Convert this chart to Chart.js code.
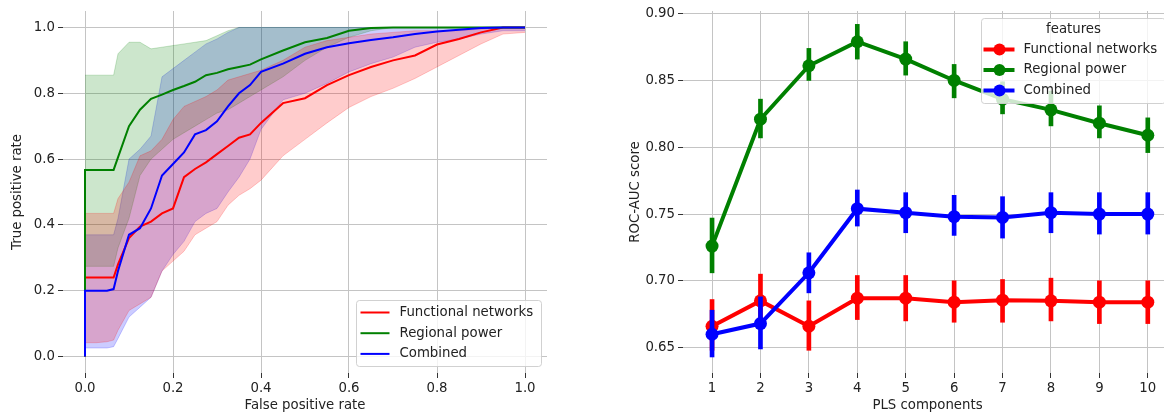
<!DOCTYPE html>
<html>
<head>
<meta charset="utf-8">
<script src="https://cdn.jsdelivr.net/npm/chart.js@4.4.0/dist/chart.umd.min.js"></script>
<style>
    html, body { margin: 0; padding: 0; background: #fff; overflow: hidden; width: 1164px; height: 414px; }
    #grafica-roc { position: absolute; left: 0; top: 0; }
    #grafica-pls { position: absolute; left: 600px; top: 0; }
</style>
</head>
<body>
<canvas id="grafica-roc" width="570" height="414"></canvas>
<canvas id="grafica-pls" width="600" height="414"></canvas>
<script>
// ---- datos panel izquierdo (curvas ROC) ----
const fpr = [0, 0, 0.025, 0.05, 0.065, 0.075, 0.1, 0.125, 0.15, 0.175, 0.2, 0.225, 0.25, 0.275, 0.3, 0.325,
    0.35, 0.375, 0.4, 0.45, 0.5, 0.55, 0.6, 0.65, 0.7, 0.75, 0.8, 0.85, 0.9, 0.95, 1.0];

const redMean = [0, 0.24, 0.24, 0.24, 0.24, 0.28, 0.36, 0.395, 0.41, 0.435, 0.45, 0.545, 0.57, 0.59, 0.615, 0.64,
    0.665, 0.675, 0.71, 0.77, 0.785, 0.825, 0.855, 0.88, 0.9, 0.915, 0.948, 0.965, 0.985, 1.0, 1.0];
const redUp = [0.435, 0.435, 0.435, 0.435, 0.435, 0.48, 0.53, 0.61, 0.625, 0.66, 0.72, 0.76, 0.775, 0.79, 0.81, 0.84,
    0.85, 0.86, 0.87, 0.9, 0.94, 0.96, 0.97, 0.98, 0.985, 0.99, 0.99, 0.99, 0.995, 1.0, 1.0];
const redLo = [0.042, 0.042, 0.042, 0.045, 0.05, 0.08, 0.14, 0.16, 0.18, 0.26, 0.29, 0.32, 0.37, 0.39, 0.41, 0.46,
    0.49, 0.51, 0.536, 0.61, 0.66, 0.71, 0.757, 0.79, 0.815, 0.845, 0.88, 0.915, 0.95, 0.98, 0.985];

const greenMean = [0, 0.567, 0.567, 0.567, 0.567, 0.605, 0.7, 0.75, 0.783, 0.796, 0.81, 0.822, 0.835, 0.855, 0.862, 0.873,
    0.88, 0.887, 0.903, 0.93, 0.955, 0.968, 0.99, 0.998, 1.0, 1.0, 1.0, 1.0, 1.0, 1.0, 1.0];
const greenUp = [0.855, 0.855, 0.855, 0.855, 0.855, 0.92, 0.955, 0.955, 0.935, 0.94, 0.945, 0.95, 0.955, 0.96, 0.975, 0.99,
    1.0, 1.0, 1.0, 1.0, 1.0, 1.0, 1.0, 1.0, 1.0, 1.0, 1.0, 1.0, 1.0, 1.0, 1.0];
const greenLo = [0.274, 0.274, 0.274, 0.274, 0.274, 0.33, 0.42, 0.55, 0.6, 0.63, 0.66, 0.68, 0.7, 0.72, 0.74, 0.75,
    0.77, 0.79, 0.81, 0.85, 0.9, 0.94, 0.97, 0.99, 1.0, 1.0, 1.0, 1.0, 1.0, 1.0, 1.0];

const blueMean = [0, 0.2, 0.2, 0.2, 0.205, 0.26, 0.37, 0.39, 0.45, 0.55, 0.585, 0.62, 0.675, 0.688, 0.715, 0.76,
    0.8, 0.825, 0.865, 0.89, 0.92, 0.94, 0.952, 0.962, 0.97, 0.98, 0.988, 0.993, 0.998, 1.0, 1.0];
const blueUp = [0.37, 0.37, 0.37, 0.37, 0.37, 0.42, 0.6, 0.63, 0.67, 0.85, 0.875, 0.9, 0.925, 0.95, 0.965, 0.985,
    1.0, 1.0, 1.0, 1.0, 1.0, 1.0, 1.0, 1.0, 1.0, 1.0, 1.0, 1.0, 1.0, 1.0, 1.0];
const blueLo = [0.026, 0.026, 0.026, 0.026, 0.03, 0.055, 0.12, 0.15, 0.18, 0.26, 0.31, 0.35, 0.41, 0.435, 0.45, 0.5,
    0.545, 0.6, 0.69, 0.78, 0.8, 0.83, 0.865, 0.89, 0.91, 0.94, 0.955, 0.965, 0.98, 0.99, 0.99];

const ticksRoc = [0, 0.2, 0.4, 0.6, 0.8, 1.0];

// ---- datos panel derecho (ROC-AUC vs componentes PLS) ----
const componentes = [1, 2, 3, 4, 5, 6, 7, 8, 9, 10];
const fnMean = [0.666, 0.685, 0.666, 0.687, 0.687, 0.684, 0.6855, 0.685, 0.684, 0.684];
const fnLo = [0.648, 0.665, 0.648, 0.671, 0.670, 0.669, 0.669, 0.670, 0.668, 0.668];
const fnHi = [0.686, 0.705, 0.685, 0.704, 0.704, 0.700, 0.701, 0.702, 0.700, 0.700];
const rpMean = [0.726, 0.821, 0.861, 0.879, 0.866, 0.850, 0.836, 0.828, 0.818, 0.809];
const rpLo = [0.706, 0.807, 0.850, 0.866, 0.854, 0.837, 0.825, 0.816, 0.807, 0.796];
const rpHi = [0.747, 0.836, 0.874, 0.892, 0.879, 0.862, 0.849, 0.842, 0.831, 0.822];
const cbMean = [0.660, 0.668, 0.706, 0.754, 0.751, 0.748, 0.7475, 0.751, 0.750, 0.750];
const cbLo = [0.643, 0.649, 0.691, 0.741, 0.736, 0.734, 0.732, 0.736, 0.735, 0.735];
const cbHi = [0.678, 0.688, 0.721, 0.768, 0.766, 0.764, 0.763, 0.766, 0.766, 0.766];
const ticksAuc = [0.65, 0.70, 0.75, 0.80, 0.85, 0.90];

const nombresSeries = ['Functional networks', 'Regional power', 'Combined'];
const tituloLeyenda = 'features';

// estilos
const colores = ['rgb(255, 0, 0)', 'rgb(0, 128, 0)', 'rgb(0, 0, 255)'];
const coloresBanda = ['rgba(255, 0, 0, 0.2)', 'rgba(0, 128, 0, 0.2)', 'rgba(0, 0, 255, 0.2)'];
const fuente = "'DejaVu Sans', sans-serif";
const colorTexto = '#222';
const colorGrid = '#c4c4c4';

Chart.defaults.font.family = fuente;
Chart.defaults.font.size = 13.3;
Chart.defaults.color = colorTexto;

document.addEventListener('DOMContentLoaded', function () {
    graficaRoc();
    graficaPls();
});

//funciones complementarias

function cajaLeyenda(ctx, x, y, w, h) {
    const r = 3;
    ctx.save();
    ctx.beginPath();
    ctx.moveTo(x + r, y);
    ctx.arcTo(x + w, y, x + w, y + h, r);
    ctx.arcTo(x + w, y + h, x, y + h, r);
    ctx.arcTo(x, y + h, x, y, r);
    ctx.arcTo(x, y, x + w, y, r);
    ctx.closePath();
    ctx.fillStyle = 'rgba(255, 255, 255, 0.8)';
    ctx.fill();
    ctx.strokeStyle = 'rgba(204, 204, 204, 0.9)';
    ctx.lineWidth = 1;
    ctx.stroke();
    ctx.restore();
}

const leyendaRoc = {
    id: 'leyendaRoc',
    afterDraw(chart) {
        const ctx = chart.ctx;
        const area = chart.chartArea;
        const ancho = 185, alto = 66;
        const x0 = Math.round(area.right - 6 - ancho) + 0.5;
        const y0 = Math.round(area.bottom - 7 - alto) + 0.5;
        cajaLeyenda(ctx, x0, y0, ancho, alto);
        ctx.save();
        ctx.font = '13.3px ' + fuente;
        ctx.textBaseline = 'middle';
        ctx.fillStyle = colorTexto;
        nombresSeries.forEach((nombre, i) => {
            const y = y0 + 12 + i * 20.7;
            ctx.strokeStyle = colores[i];
            ctx.lineWidth = 2;
            ctx.beginPath();
            ctx.moveTo(x0 + 4, y);
            ctx.lineTo(x0 + 33, y);
            ctx.stroke();
            ctx.fillText(nombre, x0 + 43, y);
        });
        ctx.restore();
    }
};

const leyendaPls = {
    id: 'leyendaPls',
    afterDraw(chart) {
        const ctx = chart.ctx;
        const area = chart.chartArea;
        const ancho = 184, alto = 85;
        const x0 = Math.round(area.right - 7 - ancho) + 0.5;
        const y0 = Math.round(area.top + 7) + 0.5;
        cajaLeyenda(ctx, x0, y0, ancho, alto);
        ctx.save();
        ctx.font = '13.3px ' + fuente;
        ctx.textBaseline = 'middle';
        ctx.fillStyle = colorTexto;
        ctx.textAlign = 'center';
        ctx.fillText(tituloLeyenda, x0 + ancho / 2, y0 + 11);
        ctx.textAlign = 'left';
        nombresSeries.forEach((nombre, i) => {
            const y = y0 + 31 + i * 20.5;
            ctx.strokeStyle = colores[i];
            ctx.fillStyle = colores[i];
            ctx.lineWidth = 4;
            ctx.beginPath();
            ctx.moveTo(x0 + 2, y);
            ctx.lineTo(x0 + 33, y);
            ctx.stroke();
            ctx.beginPath();
            ctx.arc(x0 + 18, y, 6, 0, Math.PI * 2);
            ctx.fill();
            ctx.fillStyle = colorTexto;
            ctx.fillText(nombre, x0 + 42, y);
        });
        ctx.restore();
    }
};

function ejeComun(ticks, decimales) {
    return {
        type: 'linear',
        offset: false,
        afterBuildTicks: axis => { axis.ticks = ticks.map(v => ({ value: v })); },
        ticks: {
            padding: 3,
            color: colorTexto,
            callback: value => Number(value).toFixed(decimales)
        },
        grid: {
            offset: false,
            color: colorGrid,
            lineWidth: 1,
            drawTicks: true,
            tickLength: 5,
            tickColor: '#333',
            tickWidth: 1
        },
        border: { display: false }
    };
}

function graficaRoc() {
    const puntos = arr => fpr.map((f, i) => ({ x: f, y: arr[i] }));
    // blue encima de green encima de red, como en el original
    const linea = (arr, i) => ({
        label: nombresSeries[i],
        data: puntos(arr),
        borderColor: colores[i],
        borderWidth: 2,
        pointRadius: 0,
        fill: false,
        order: 0.3 - i * 0.1
    });
    const banda = (arr, i, relleno) => ({
        data: puntos(arr),
        borderColor: coloresBanda[i],
        backgroundColor: coloresBanda[i],
        borderWidth: 1,
        pointRadius: 0,
        fill: relleno,
        order: 1
    });

    const ejeX = ejeComun(ticksRoc, 1);
    ejeX.min = -0.05;
    ejeX.max = 1.05;
    ejeX.afterFit = axis => { axis.height = 41; };
    ejeX.title = { display: true, text: 'False positive rate', color: colorTexto, padding: { top: 0, bottom: 0 } };

    const ejeY = ejeComun(ticksRoc, 1);
    ejeY.min = -0.05;
    ejeY.max = 1.05;
    ejeY.afterFit = axis => { axis.width = 63; };
    ejeY.title = { display: true, text: 'True positive rate', color: colorTexto, padding: { top: 10, bottom: 0 } };

    const config = {
        type: 'line',
        data: {
            datasets: [
                linea(redMean, 0),
                linea(greenMean, 1),
                linea(blueMean, 2),
                banda(redUp, 0, '+1'),
                banda(redLo, 0, false),
                banda(greenUp, 1, '+1'),
                banda(greenLo, 1, false),
                banda(blueUp, 2, '+1'),
                banda(blueLo, 2, false)
            ]
        },
        options: {
            responsive: false,
            animation: false,
            devicePixelRatio: 1,
            layout: { padding: { top: 11, right: 23, left: 0, bottom: 0 } },
            plugins: {
                legend: { display: false },
                tooltip: { enabled: false }
            },
            scales: { x: ejeX, y: ejeY }
        },
        plugins: [leyendaRoc]
    };

    const ctx = document.getElementById('grafica-roc').getContext('2d');
    new Chart(ctx, config);
}

function graficaPls() {
    const medias = [fnMean, rpMean, cbMean];
    const bajos = [fnLo, rpLo, cbLo];
    const altos = [fnHi, rpHi, cbHi];
    const datasets = [];

    medias.forEach((serie, i) => {
        // barras de error como barras flotantes
        datasets.push({
            type: 'bar',
            data: componentes.map((c, j) => ({ x: c, y: [bajos[i][j], altos[i][j]] })),
            backgroundColor: colores[i],
            borderWidth: 0,
            barThickness: 4,
            grouped: false,
            order: 6 - i * 2
        });
        datasets.push({
            type: 'line',
            label: nombresSeries[i],
            data: componentes.map((c, j) => ({ x: c, y: serie[j] })),
            borderColor: colores[i],
            backgroundColor: colores[i],
            borderWidth: 4,
            pointRadius: 6.5,
            pointBorderWidth: 0,
            pointBackgroundColor: colores[i],
            fill: false,
            order: 5 - i * 2
        });
    });

    const ejeX = ejeComun(componentes, 0);
    ejeX.min = 0.4;
    ejeX.max = 10.5;
    ejeX.afterFit = axis => { axis.height = 41; };
    ejeX.title = { display: true, text: 'PLS components', color: colorTexto, padding: { top: 0, bottom: 0 } };

    const ejeY = ejeComun(ticksAuc, 2);
    ejeY.min = 0.631;
    ejeY.max = 0.902;
    ejeY.afterFit = axis => { axis.width = 83; };
    ejeY.title = { display: true, text: 'ROC-AUC score', color: colorTexto, padding: { top: 28, bottom: 0 } };

    const config = {
        type: 'line',
        data: { datasets: datasets },
        options: {
            responsive: false,
            animation: false,
            devicePixelRatio: 1,
            layout: { padding: { top: 11, right: 28, left: 0, bottom: 0 } },
            plugins: {
                legend: { display: false },
                tooltip: { enabled: false }
            },
            scales: { x: ejeX, y: ejeY }
        },
        plugins: [leyendaPls]
    };

    const ctx = document.getElementById('grafica-pls').getContext('2d');
    new Chart(ctx, config);
}
</script>
</body>
</html>
